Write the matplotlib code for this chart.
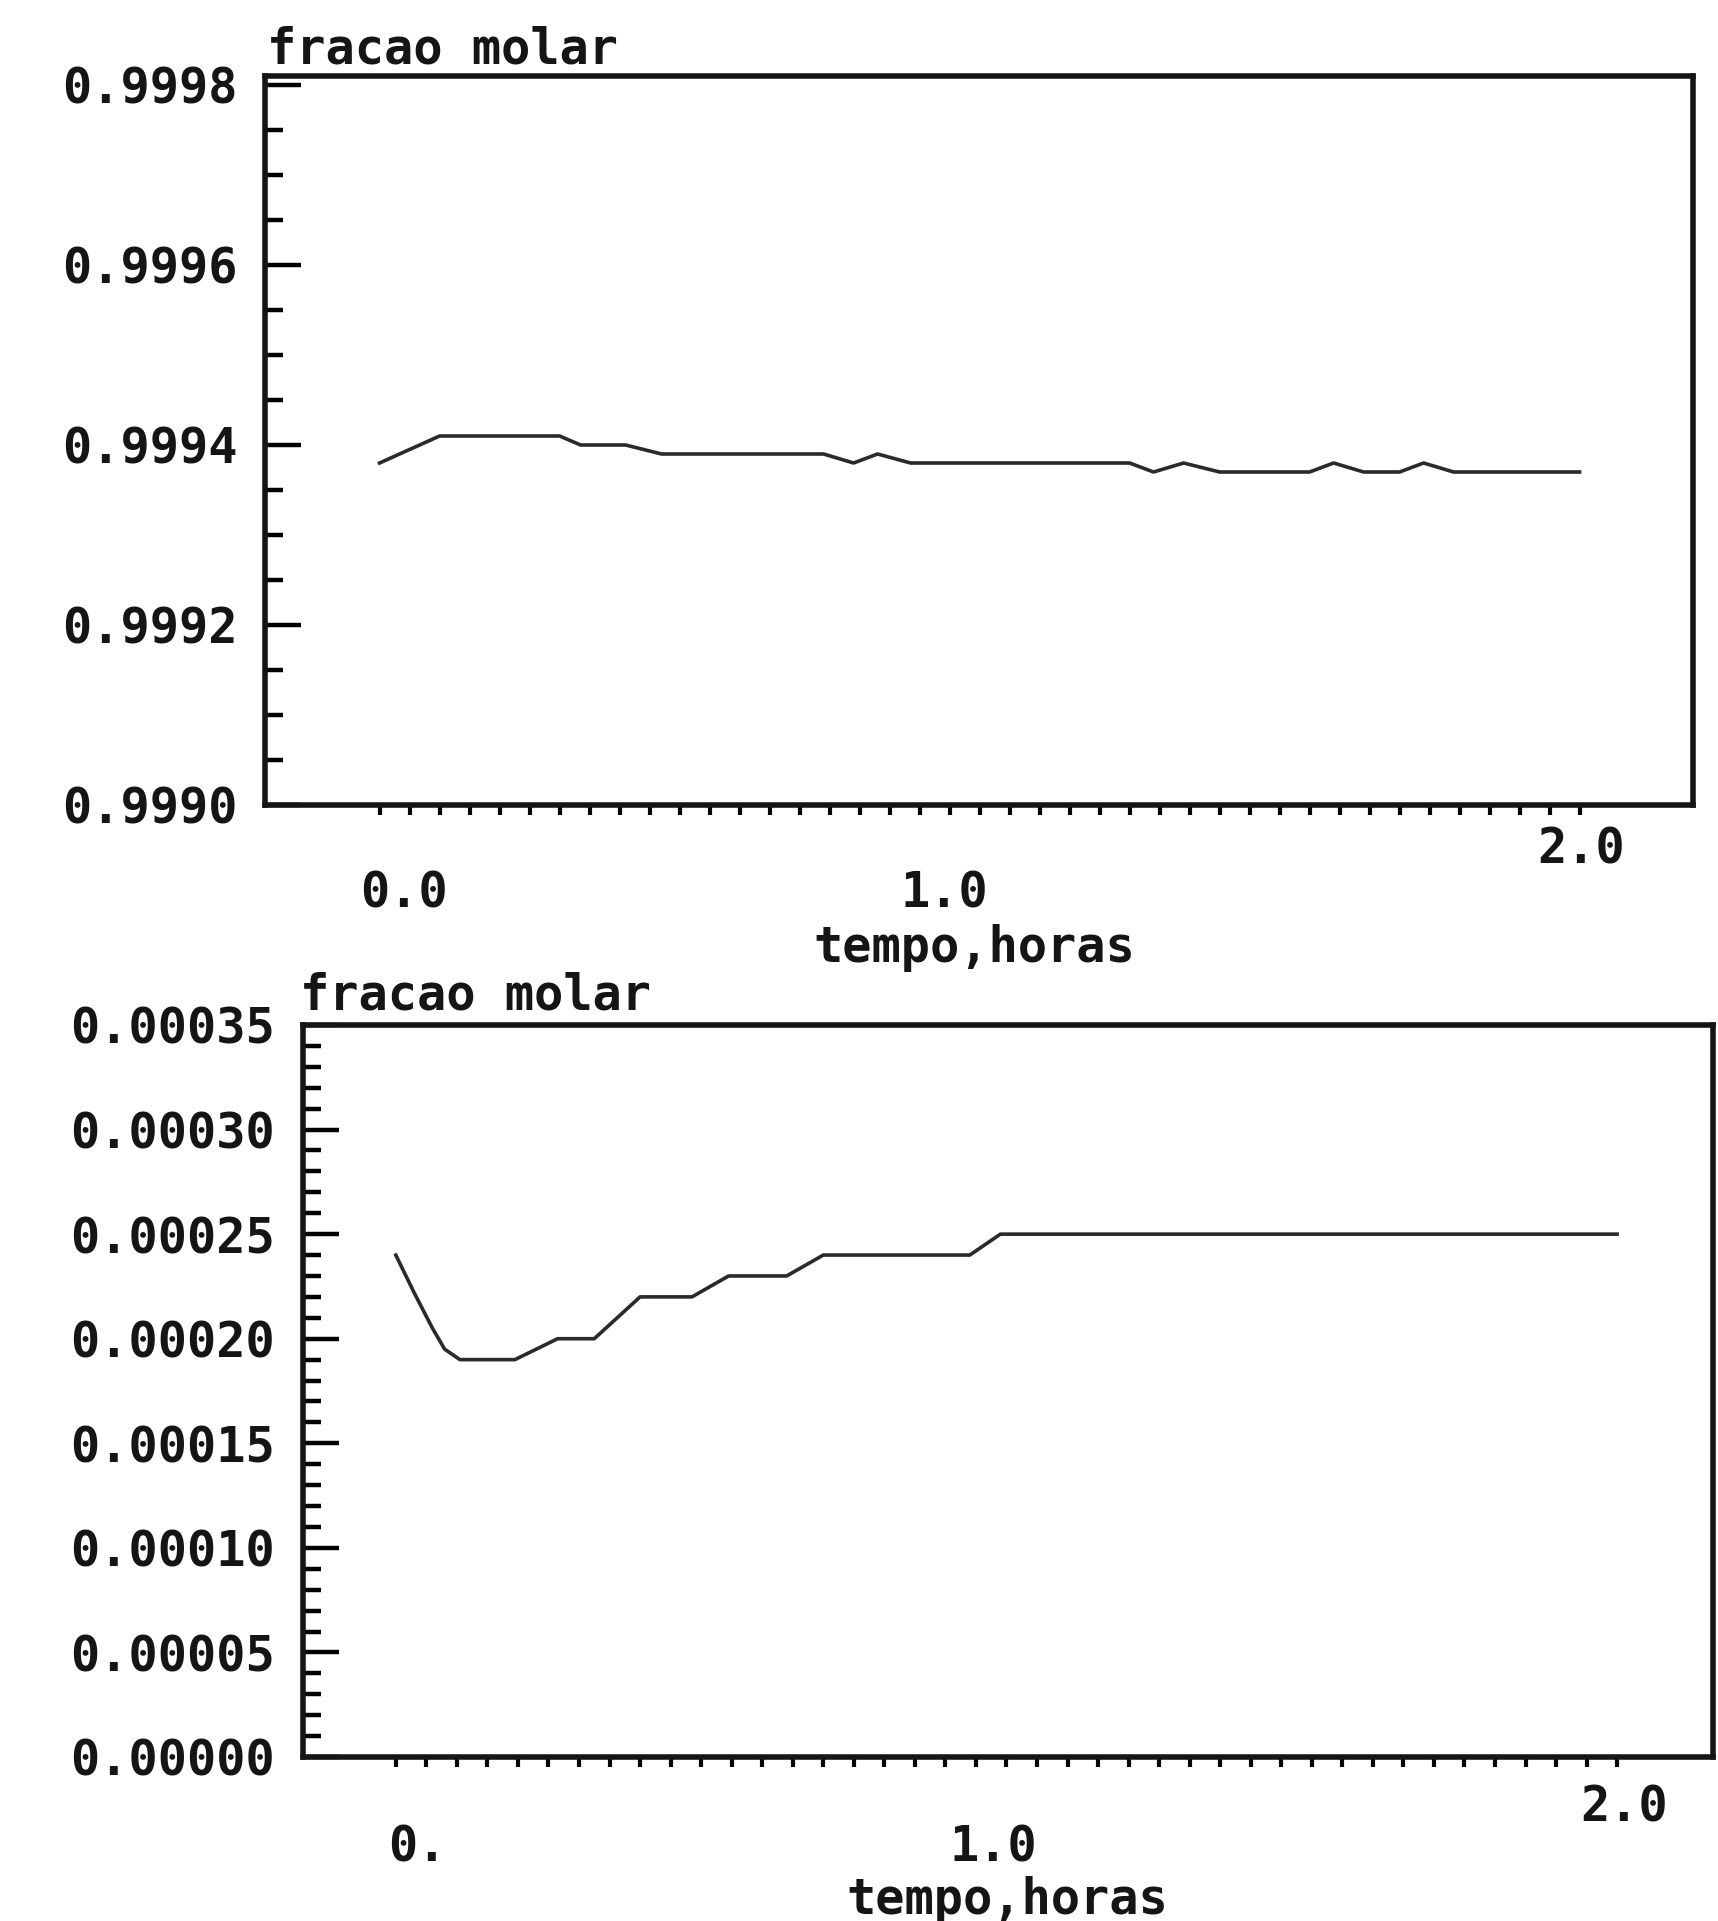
import matplotlib
matplotlib.use('Agg')
import matplotlib.pyplot as plt
import matplotlib.ticker as mtick
import numpy as np

# top panel: fracao molar (componente principal) vs tempo
top_t = [0.00, 0.10, 0.30, 0.335, 0.41, 0.47, 0.74, 0.79, 0.83, 0.885,
         1.25, 1.29, 1.34, 1.40, 1.55, 1.59, 1.64, 1.70, 1.74, 1.79, 2.00]
top_x = [0.99938, 0.99941, 0.99941, 0.99940, 0.99940, 0.99939, 0.99939, 0.99938, 0.99939, 0.99938,
         0.99938, 0.99937, 0.99938, 0.99937, 0.99937, 0.99938, 0.99937, 0.99937, 0.99938, 0.99937, 0.99937]
top_yticks = [0.9990, 0.9992, 0.9994, 0.9996, 0.9998]
top_ylabels = ['0.9990', '0.9992', '0.9994', '0.9996', '0.9998']

# bottom panel: fracao molar (componente minoritario) vs tempo
bot_t = [0.00, 0.03, 0.06, 0.08, 0.105, 0.195, 0.265, 0.325, 0.40, 0.485,
         0.545, 0.64, 0.70, 0.94, 0.99, 2.00]
bot_x = [0.00024, 0.000222, 0.000205, 0.000195, 0.00019, 0.00019, 0.00020, 0.00020, 0.00022, 0.00022,
         0.00023, 0.00023, 0.00024, 0.00024, 0.00025, 0.00025]
bot_yticks = [0.0, 0.00005, 0.00010, 0.00015, 0.00020, 0.00025, 0.00030, 0.00035]
bot_ylabels = ['0.00000', '0.00005', '0.00010', '0.00015', '0.00020', '0.00025', '0.00030', '0.00035']

W, H = 1718, 1921
FS = 35
FONT = 'DejaVu Sans Mono'
INK = '#151515'
plt.rcParams['font.family'] = FONT
plt.rcParams['font.weight'] = 'bold'

fig = plt.figure(figsize=(W / 100, H / 100), dpi=100)


def px_axes(left, top, right, bottom):
    return fig.add_axes([left / W, 1 - bottom / H, (right - left) / W, (bottom - top) / H])


def style(ax, yticks, ylabels, minor_step):
    for sp in ax.spines.values():
        sp.set_linewidth(4)
        sp.set_color(INK)
    ax.set_yticks(yticks)
    ax.set_yticklabels(ylabels, fontsize=FS, color=INK, fontweight='bold')
    ax.yaxis.set_minor_locator(mtick.MultipleLocator(minor_step))
    ax.tick_params(axis='y', which='major', direction='in', length=26, width=3.2, pad=20)
    ax.tick_params(axis='y', which='minor', direction='in', length=13, width=3.2)
    ax.set_xticks(np.arange(0, 2.001, 0.05))
    ax.set_xticklabels([])
    ax.tick_params(axis='x', which='major', direction='out', length=7, width=3)
    ax.tick_params(axis='x', which='minor', bottom=False)


def ftext(x, y, s, ha='center', va='center'):
    fig.text(x / W, 1 - y / H, s, ha=ha, va=va, fontsize=FS, color=INK,
             family=FONT, fontweight='bold')


ax0 = px_axes(265, 76, 1693, 805)
ax0.plot(top_t, top_x, color='#2a2a2a', lw=2.6)
ax0.set_xlim(-0.191, 2.189)
ax0.set_ylim(0.9990, 0.99981)
style(ax0, top_yticks, top_ylabels, 0.00005)

ax1 = px_axes(303, 1025, 1713, 1757)
ax1.plot(bot_t, bot_x, color='#2a2a2a', lw=2.6)
ax1.set_xlim(-0.152, 2.157)
ax1.set_ylim(0.0, 0.00035)
style(ax1, bot_yticks, bot_ylabels, 0.00001)

ftext(267, 49, 'fracao molar', ha='left')
ftext(404, 893, '0.0')
ftext(944, 893, '1.0')
ftext(1581, 849, '2.0')
ftext(974, 948, 'tempo,horas')

ftext(300, 995, 'fracao molar', ha='left')
ftext(417, 1848, '0.')
ftext(993, 1848, '1.0')
ftext(1624, 1807, '2.0')
ftext(1007, 1900, 'tempo,horas')

plt.savefig('out.png', dpi=100)
